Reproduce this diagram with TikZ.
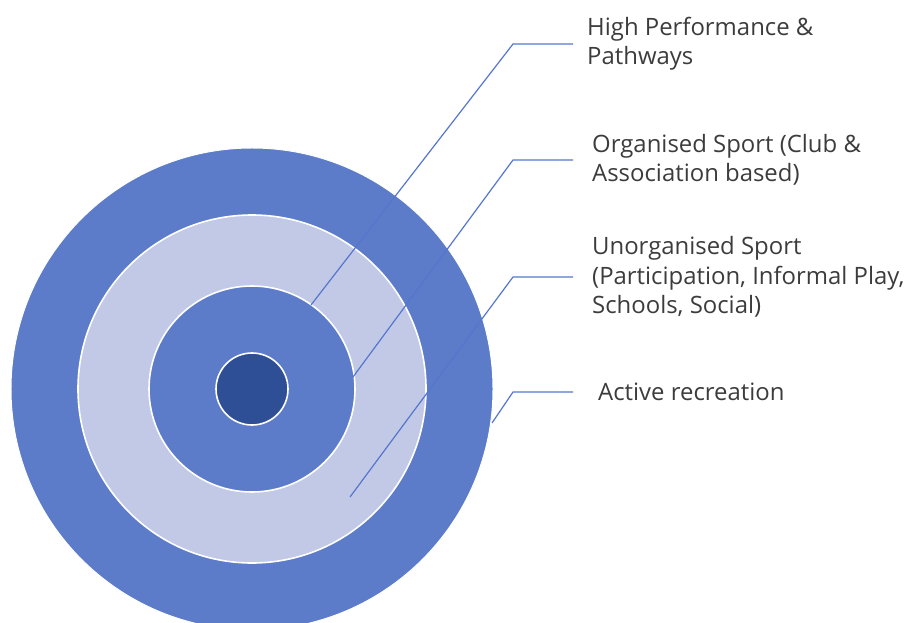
\documentclass[tikz,border=0pt]{standalone}
\usepackage{fontspec}
\setmainfont{Open Sans}
\definecolor{ringblue}{RGB}{92,124,201}
\definecolor{ringlight}{RGB}{194,201,230}
\definecolor{coreblue}{RGB}{46,78,150}
\definecolor{leader}{RGB}{84,118,206}
\definecolor{labeltext}{RGB}{60,60,60}
\tikzset{
  ring/.style={circle, inner sep=0pt, outer sep=0pt, draw=white},
  lab/.style={anchor=west, align=left, text=labeltext, inner ysep=0pt,
    font=\fontsize{24}{29.5}\selectfont},
  leadline/.style={draw=leader, line width=1.2bp}
}
\begin{document}
\begin{tikzpicture}[x=1bp, y=-1bp]
\useasboundingbox (0,0) rectangle (908,623);
\clip (0,0) rectangle (908,623);
% target rings
\node[ring, fill=ringblue, line width=1bp, minimum size=482bp] (outer) at (252,389) {};
\node[ring, fill=ringlight, line width=1.6bp, minimum size=348bp] (light) at (252,389) {};
\node[ring, fill=ringblue, line width=1.6bp, minimum size=206bp] (mid) at (252,389) {};
\node[ring, fill=coreblue, line width=1.6bp, minimum size=72bp] (core) at (252,389) {};
% labels
\node[lab, inner xsep=14bp] (hp) at (573,44) {High Performance \&\\Pathways};
\node[lab, inner xsep=19bp] (org) at (573,160) {Organised Sport (Club \&\\Association based)};
\node[lab, inner xsep=19bp] (unorg) at (573,277) {Unorganised Sport\\(Participation, Informal Play,\\Schools, Social)};
\node[lab, inner xsep=25bp] (act) at (573,392) {Active recreation};
% elbows and ends
\coordinate (e1) at (513,44);
\coordinate (t1) at (311,305);
\coordinate (e2) at (513,160);
\coordinate (t2) at (353,377);
\coordinate (e3) at (513,277);
\coordinate (t3) at (350,497);
\coordinate (e4) at (513,392);
\coordinate (t4) at (492,423);
% leaders
\draw[leadline] (hp.west) -- (e1) -- (t1);
\draw[leadline] (org.west) -- (e2) -- (t2);
\draw[leadline] (unorg.west) -- (e3) -- (t3);
\draw[leadline] (act.west) -- (e4) -- (t4);
\end{tikzpicture}
\end{document}
